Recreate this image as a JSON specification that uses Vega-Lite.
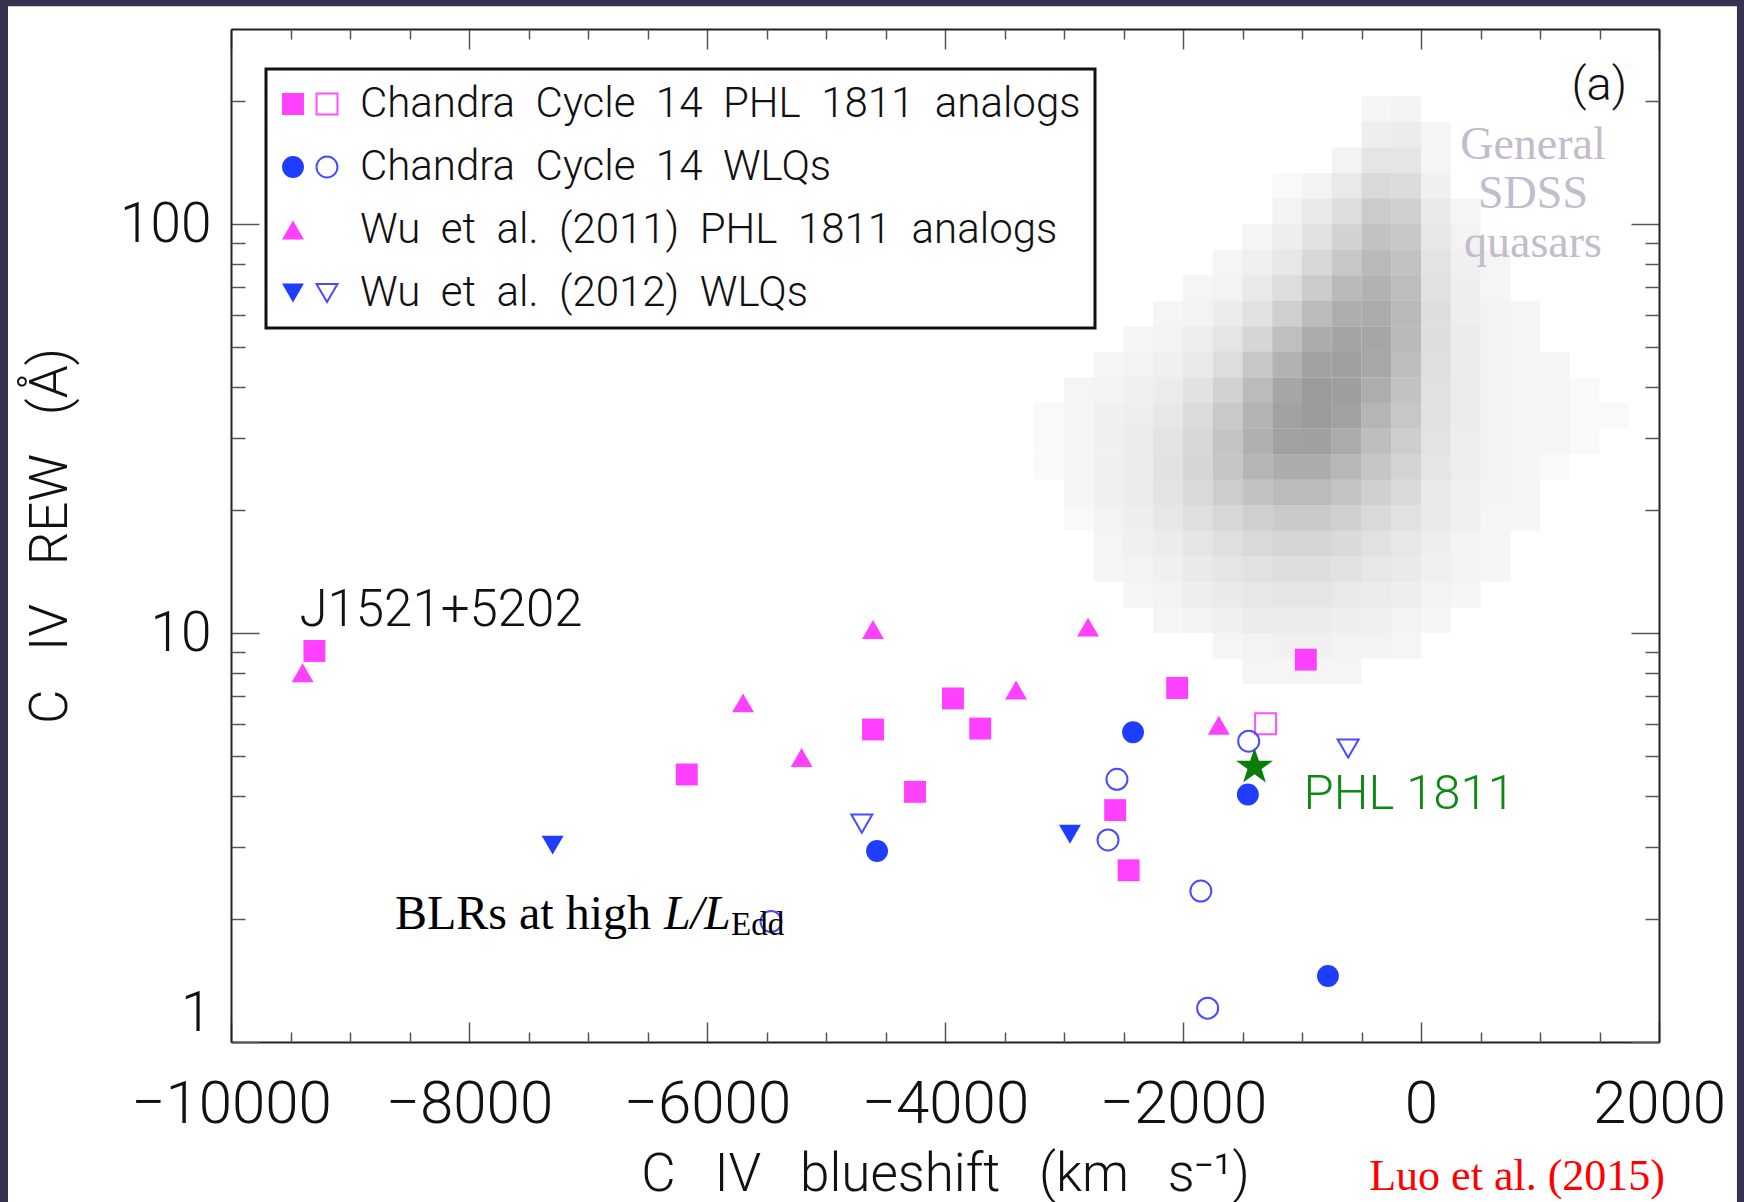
{
  "$schema": "https://vega.github.io/schema/vega-lite/v6.json",
  "width": 1428,
  "height": 1013,
  "autosize": {"type": "none"},
  "padding": {"left": 231, "top": 29, "right": 85, "bottom": 160},
  "background": "#35334f",
  "config": {
    "view": {"stroke": null},
    "legend": {"strokeWidth": 3},
    "axis": {"grid": false, "domainColor": "#222222", "domainWidth": 2, "tickColor": "#555555", "tickWidth": 1.5, "labelFont": "Roboto", "labelFontWeight": 300, "labelColor": "#111111", "titleFont": "Roboto", "titleFontWeight": 300, "titleColor": "#111111", "labelOverlap": false, "labelBound": false, "labelLimit": 500}
  },
  "datasets": {
    "pts": [
      {"g": "Chandra Cycle 14 PHL 1811 analogs", "open": false, "x": -9299, "y": 9.04, "label": "J1521+5202"},
      {"g": "Chandra Cycle 14 PHL 1811 analogs", "open": false, "x": -6170, "y": 4.51},
      {"g": "Chandra Cycle 14 PHL 1811 analogs", "open": false, "x": -4605, "y": 5.81},
      {"g": "Chandra Cycle 14 PHL 1811 analogs", "open": false, "x": -3933, "y": 6.92},
      {"g": "Chandra Cycle 14 PHL 1811 analogs", "open": false, "x": -3704, "y": 5.84},
      {"g": "Chandra Cycle 14 PHL 1811 analogs", "open": false, "x": -4252, "y": 4.09},
      {"g": "Chandra Cycle 14 PHL 1811 analogs", "open": false, "x": -968, "y": 8.61},
      {"g": "Chandra Cycle 14 PHL 1811 analogs", "open": false, "x": -2049, "y": 7.34},
      {"g": "Chandra Cycle 14 PHL 1811 analogs", "open": false, "x": -2570, "y": 3.69},
      {"g": "Chandra Cycle 14 PHL 1811 analogs", "open": false, "x": -2457, "y": 2.63},
      {"g": "Chandra Cycle 14 PHL 1811 analogs", "open": true, "x": -1306, "y": 6.0},
      {"g": "Chandra Cycle 14 WLQs", "open": false, "x": -4571, "y": 2.93},
      {"g": "Chandra Cycle 14 WLQs", "open": false, "x": -2420, "y": 5.72},
      {"g": "Chandra Cycle 14 WLQs", "open": false, "x": -1455, "y": 4.03},
      {"g": "Chandra Cycle 14 WLQs", "open": false, "x": -782, "y": 1.45},
      {"g": "Chandra Cycle 14 WLQs", "open": true, "x": -5462, "y": 1.97},
      {"g": "Chandra Cycle 14 WLQs", "open": true, "x": -1448, "y": 5.44},
      {"g": "Chandra Cycle 14 WLQs", "open": true, "x": -2555, "y": 4.39},
      {"g": "Chandra Cycle 14 WLQs", "open": true, "x": -2630, "y": 3.12},
      {"g": "Chandra Cycle 14 WLQs", "open": true, "x": -1850, "y": 2.34},
      {"g": "Chandra Cycle 14 WLQs", "open": true, "x": -1793, "y": 1.21},
      {"g": "Wu et al. (2011) PHL 1811 analogs", "open": false, "x": -9398, "y": 8.0},
      {"g": "Wu et al. (2011) PHL 1811 analogs", "open": false, "x": -4605, "y": 10.2},
      {"g": "Wu et al. (2011) PHL 1811 analogs", "open": false, "x": -5697, "y": 6.75},
      {"g": "Wu et al. (2011) PHL 1811 analogs", "open": false, "x": -5205, "y": 4.96},
      {"g": "Wu et al. (2011) PHL 1811 analogs", "open": false, "x": -3403, "y": 7.26},
      {"g": "Wu et al. (2011) PHL 1811 analogs", "open": false, "x": -2798, "y": 10.34},
      {"g": "Wu et al. (2011) PHL 1811 analogs", "open": false, "x": -1699, "y": 5.95},
      {"g": "Wu et al. (2012) WLQs", "open": false, "x": -7297, "y": 3.03},
      {"g": "Wu et al. (2012) WLQs", "open": false, "x": -2950, "y": 3.22},
      {"g": "Wu et al. (2012) WLQs", "open": true, "x": -4699, "y": 3.42},
      {"g": "Wu et al. (2012) WLQs", "open": true, "x": -612, "y": 5.22}
    ],
    "phl": [{"name": "PHL 1811", "x": -1399, "y": 4.71}],
    "cloud": [
      {"x":-375,"y":191.1,"d":0.02},{"x":-125,"y":191.1,"d":0.03},
      {"x":-375,"y":165.48,"d":0.05},{"x":-125,"y":165.48,"d":0.06},{"x":125,"y":165.48,"d":0.02},
      {"x":-625,"y":143.3,"d":0.03},{"x":-375,"y":143.3,"d":0.1},{"x":-125,"y":143.3,"d":0.1},{"x":125,"y":143.3,"d":0.02},
      {"x":-1125,"y":124.09,"d":0.01},{"x":-875,"y":124.09,"d":0.03},{"x":-625,"y":124.09,"d":0.08},{"x":-375,"y":124.09,"d":0.19},{"x":-125,"y":124.09,"d":0.17},{"x":125,"y":124.09,"d":0.04},
      {"x":-1125,"y":107.46,"d":0.03},{"x":-875,"y":107.46,"d":0.07},{"x":-625,"y":107.46,"d":0.16},{"x":-375,"y":107.46,"d":0.32},{"x":-125,"y":107.46,"d":0.27},{"x":125,"y":107.46,"d":0.07},{"x":375,"y":107.46,"d":0.02},
      {"x":-1375,"y":93.06,"d":0.02},{"x":-1125,"y":93.06,"d":0.05},{"x":-875,"y":93.06,"d":0.12},{"x":-625,"y":93.06,"d":0.25},{"x":-375,"y":93.06,"d":0.42},{"x":-125,"y":93.06,"d":0.35},{"x":125,"y":93.06,"d":0.09},{"x":375,"y":93.06,"d":0.03},
      {"x":-1625,"y":80.58,"d":0.02},{"x":-1375,"y":80.58,"d":0.04},{"x":-1125,"y":80.58,"d":0.09},{"x":-875,"y":80.58,"d":0.2},{"x":-625,"y":80.58,"d":0.36},{"x":-375,"y":80.58,"d":0.52},{"x":-125,"y":80.58,"d":0.42},{"x":125,"y":80.58,"d":0.11},{"x":375,"y":80.58,"d":0.04},{"x":625,"y":80.58,"d":0.02},
      {"x":-1875,"y":69.78,"d":0.02},{"x":-1625,"y":69.78,"d":0.03},{"x":-1375,"y":69.78,"d":0.07},{"x":-1125,"y":69.78,"d":0.16},{"x":-875,"y":69.78,"d":0.32},{"x":-625,"y":69.78,"d":0.52},{"x":-375,"y":69.78,"d":0.62},{"x":-125,"y":69.78,"d":0.48},{"x":125,"y":69.78,"d":0.13},{"x":375,"y":69.78,"d":0.05},{"x":625,"y":69.78,"d":0.02},
      {"x":-2125,"y":60.43,"d":0.02},{"x":-1875,"y":60.43,"d":0.03},{"x":-1625,"y":60.43,"d":0.06},{"x":-1375,"y":60.43,"d":0.13},{"x":-1125,"y":60.43,"d":0.28},{"x":-875,"y":60.43,"d":0.5},{"x":-625,"y":60.43,"d":0.68},{"x":-375,"y":60.43,"d":0.72},{"x":-125,"y":60.43,"d":0.52},{"x":125,"y":60.43,"d":0.15},{"x":375,"y":60.43,"d":0.05},{"x":625,"y":60.43,"d":0.03},{"x":875,"y":60.43,"d":0.02},
      {"x":-2375,"y":52.33,"d":0.02},{"x":-2125,"y":52.33,"d":0.03},{"x":-1875,"y":52.33,"d":0.05},{"x":-1625,"y":52.33,"d":0.1},{"x":-1375,"y":52.33,"d":0.22},{"x":-1125,"y":52.33,"d":0.45},{"x":-875,"y":52.33,"d":0.7},{"x":-625,"y":52.33,"d":0.82},{"x":-375,"y":52.33,"d":0.78},{"x":-125,"y":52.33,"d":0.52},{"x":125,"y":52.33,"d":0.15},{"x":375,"y":52.33,"d":0.06},{"x":625,"y":52.33,"d":0.03},{"x":875,"y":52.33,"d":0.02},
      {"x":-2625,"y":45.32,"d":0.02},{"x":-2375,"y":45.32,"d":0.03},{"x":-2125,"y":45.32,"d":0.04},{"x":-1875,"y":45.32,"d":0.08},{"x":-1625,"y":45.32,"d":0.16},{"x":-1375,"y":45.32,"d":0.35},{"x":-1125,"y":45.32,"d":0.62},{"x":-875,"y":45.32,"d":0.85},{"x":-625,"y":45.32,"d":0.88},{"x":-375,"y":45.32,"d":0.75},{"x":-125,"y":45.32,"d":0.48},{"x":125,"y":45.32,"d":0.14},{"x":375,"y":45.32,"d":0.06},{"x":625,"y":45.32,"d":0.03},{"x":875,"y":45.32,"d":0.02},{"x":1125,"y":45.32,"d":0.02},
      {"x":-2875,"y":39.24,"d":0.02},{"x":-2625,"y":39.24,"d":0.03},{"x":-2375,"y":39.24,"d":0.04},{"x":-2125,"y":39.24,"d":0.06},{"x":-1875,"y":39.24,"d":0.12},{"x":-1625,"y":39.24,"d":0.25},{"x":-1375,"y":39.24,"d":0.5},{"x":-1125,"y":39.24,"d":0.78},{"x":-875,"y":39.24,"d":0.95},{"x":-625,"y":39.24,"d":0.9},{"x":-375,"y":39.24,"d":0.68},{"x":-125,"y":39.24,"d":0.42},{"x":125,"y":39.24,"d":0.13},{"x":375,"y":39.24,"d":0.06},{"x":625,"y":39.24,"d":0.03},{"x":875,"y":39.24,"d":0.02},{"x":1125,"y":39.24,"d":0.02},{"x":1375,"y":39.24,"d":0.01},
      {"x":-3125,"y":33.98,"d":0.01},{"x":-2875,"y":33.98,"d":0.02},{"x":-2625,"y":33.98,"d":0.04},{"x":-2375,"y":33.98,"d":0.05},{"x":-2125,"y":33.98,"d":0.09},{"x":-1875,"y":33.98,"d":0.17},{"x":-1625,"y":33.98,"d":0.34},{"x":-1375,"y":33.98,"d":0.6},{"x":-1125,"y":33.98,"d":0.85},{"x":-875,"y":33.98,"d":0.95},{"x":-625,"y":33.98,"d":0.85},{"x":-375,"y":33.98,"d":0.58},{"x":-125,"y":33.98,"d":0.36},{"x":125,"y":33.98,"d":0.12},{"x":375,"y":33.98,"d":0.06},{"x":625,"y":33.98,"d":0.03},{"x":875,"y":33.98,"d":0.02},{"x":1125,"y":33.98,"d":0.02},{"x":1375,"y":33.98,"d":0.01},{"x":1625,"y":33.98,"d":0.01},
      {"x":-3125,"y":29.43,"d":0.01},{"x":-2875,"y":29.43,"d":0.02},{"x":-2625,"y":29.43,"d":0.04},{"x":-2375,"y":29.43,"d":0.06},{"x":-2125,"y":29.43,"d":0.11},{"x":-1875,"y":29.43,"d":0.21},{"x":-1625,"y":29.43,"d":0.4},{"x":-1375,"y":29.43,"d":0.65},{"x":-1125,"y":29.43,"d":0.85},{"x":-875,"y":29.43,"d":0.88},{"x":-625,"y":29.43,"d":0.72},{"x":-375,"y":29.43,"d":0.47},{"x":-125,"y":29.43,"d":0.3},{"x":125,"y":29.43,"d":0.11},{"x":375,"y":29.43,"d":0.05},{"x":625,"y":29.43,"d":0.03},{"x":875,"y":29.43,"d":0.02},{"x":1125,"y":29.43,"d":0.02},{"x":1375,"y":29.43,"d":0.01},
      {"x":-3125,"y":25.48,"d":0.01},{"x":-2875,"y":25.48,"d":0.02},{"x":-2625,"y":25.48,"d":0.04},{"x":-2375,"y":25.48,"d":0.06},{"x":-2125,"y":25.48,"d":0.12},{"x":-1875,"y":25.48,"d":0.22},{"x":-1625,"y":25.48,"d":0.38},{"x":-1375,"y":25.48,"d":0.58},{"x":-1125,"y":25.48,"d":0.7},{"x":-875,"y":25.48,"d":0.7},{"x":-625,"y":25.48,"d":0.56},{"x":-375,"y":25.48,"d":0.37},{"x":-125,"y":25.48,"d":0.24},{"x":125,"y":25.48,"d":0.1},{"x":375,"y":25.48,"d":0.05},{"x":625,"y":25.48,"d":0.03},{"x":875,"y":25.48,"d":0.02},{"x":1125,"y":25.48,"d":0.01},
      {"x":-2875,"y":22.07,"d":0.02},{"x":-2625,"y":22.07,"d":0.04},{"x":-2375,"y":22.07,"d":0.06},{"x":-2125,"y":22.07,"d":0.11},{"x":-1875,"y":22.07,"d":0.19},{"x":-1625,"y":22.07,"d":0.3},{"x":-1375,"y":22.07,"d":0.42},{"x":-1125,"y":22.07,"d":0.5},{"x":-875,"y":22.07,"d":0.5},{"x":-625,"y":22.07,"d":0.4},{"x":-375,"y":22.07,"d":0.27},{"x":-125,"y":22.07,"d":0.18},{"x":125,"y":22.07,"d":0.08},{"x":375,"y":22.07,"d":0.04},{"x":625,"y":22.07,"d":0.03},{"x":875,"y":22.07,"d":0.02},
      {"x":-2875,"y":19.11,"d":0.01},{"x":-2625,"y":19.11,"d":0.03},{"x":-2375,"y":19.11,"d":0.05},{"x":-2125,"y":19.11,"d":0.09},{"x":-1875,"y":19.11,"d":0.14},{"x":-1625,"y":19.11,"d":0.21},{"x":-1375,"y":19.11,"d":0.28},{"x":-1125,"y":19.11,"d":0.33},{"x":-875,"y":19.11,"d":0.33},{"x":-625,"y":19.11,"d":0.27},{"x":-375,"y":19.11,"d":0.19},{"x":-125,"y":19.11,"d":0.13},{"x":125,"y":19.11,"d":0.07},{"x":375,"y":19.11,"d":0.04},{"x":625,"y":19.11,"d":0.02},{"x":875,"y":19.11,"d":0.02},
      {"x":-2625,"y":16.55,"d":0.02},{"x":-2375,"y":16.55,"d":0.04},{"x":-2125,"y":16.55,"d":0.06},{"x":-1875,"y":16.55,"d":0.1},{"x":-1625,"y":16.55,"d":0.14},{"x":-1375,"y":16.55,"d":0.19},{"x":-1125,"y":16.55,"d":0.22},{"x":-875,"y":16.55,"d":0.22},{"x":-625,"y":16.55,"d":0.18},{"x":-375,"y":16.55,"d":0.13},{"x":-125,"y":16.55,"d":0.09},{"x":125,"y":16.55,"d":0.05},{"x":375,"y":16.55,"d":0.03},{"x":625,"y":16.55,"d":0.02},
      {"x":-2625,"y":14.33,"d":0.02},{"x":-2375,"y":14.33,"d":0.03},{"x":-2125,"y":14.33,"d":0.04},{"x":-1875,"y":14.33,"d":0.07},{"x":-1625,"y":14.33,"d":0.1},{"x":-1375,"y":14.33,"d":0.13},{"x":-1125,"y":14.33,"d":0.15},{"x":-875,"y":14.33,"d":0.15},{"x":-625,"y":14.33,"d":0.12},{"x":-375,"y":14.33,"d":0.09},{"x":-125,"y":14.33,"d":0.07},{"x":125,"y":14.33,"d":0.04},{"x":375,"y":14.33,"d":0.03},{"x":625,"y":14.33,"d":0.02},
      {"x":-2375,"y":12.41,"d":0.02},{"x":-2125,"y":12.41,"d":0.03},{"x":-1875,"y":12.41,"d":0.05},{"x":-1625,"y":12.41,"d":0.07},{"x":-1375,"y":12.41,"d":0.09},{"x":-1125,"y":12.41,"d":0.1},{"x":-875,"y":12.41,"d":0.1},{"x":-625,"y":12.41,"d":0.08},{"x":-375,"y":12.41,"d":0.06},{"x":-125,"y":12.41,"d":0.05},{"x":125,"y":12.41,"d":0.03},{"x":375,"y":12.41,"d":0.02},
      {"x":-2125,"y":10.75,"d":0.02},{"x":-1875,"y":10.75,"d":0.03},{"x":-1625,"y":10.75,"d":0.04},{"x":-1375,"y":10.75,"d":0.06},{"x":-1125,"y":10.75,"d":0.06},{"x":-875,"y":10.75,"d":0.06},{"x":-625,"y":10.75,"d":0.05},{"x":-375,"y":10.75,"d":0.04},{"x":-125,"y":10.75,"d":0.03},{"x":125,"y":10.75,"d":0.02},
      {"x":-1625,"y":9.31,"d":0.02},{"x":-1375,"y":9.31,"d":0.03},{"x":-1125,"y":9.31,"d":0.04},{"x":-875,"y":9.31,"d":0.04},{"x":-625,"y":9.31,"d":0.03},{"x":-375,"y":9.31,"d":0.03},{"x":-125,"y":9.31,"d":0.02},
      {"x":-1375,"y":8.06,"d":0.02},{"x":-1125,"y":8.06,"d":0.02},{"x":-875,"y":8.06,"d":0.02},{"x":-625,"y":8.06,"d":0.02}
    ]
  },
  "resolve": {
    "axis": {"x": "independent", "y": "independent"},
    "scale": {"shape": "independent", "fill": "independent", "stroke": "independent"}
  },
  "layer": [
    {
      "data": {"values": [{}]},
      "mark": {"type": "rect", "fill": "#ffffff"},
      "encoding": {
        "x": {"datum": -11874, "type": "quantitative", "scale": {"domain": [-10000, 2000], "nice": false, "zero": false}, "axis": null},
        "x2": {"datum": 2655},
        "y": {"datum": 341, "type": "quantitative", "scale": {"type": "log", "domain": [1, 300], "nice": false}, "axis": null},
        "y2": {"datum": 0.3}
      }
    },
    {
      "data": {"name": "cloud"},
      "mark": {"type": "rect", "width": 29.75, "height": 25.58, "fill": "#8a8a8a"},
      "encoding": {
        "x": {"field": "x", "type": "quantitative", "scale": {"domain": [-10000, 2000], "nice": false, "zero": false},
              "axis": {"orient": "top", "zindex": 1, "title": null, "labels": false, "values": [-10000,-8000,-6000,-4000,-2000,0,2000], "tickSize": -20}},
        "y": {"field": "y", "type": "quantitative", "scale": {"type": "log", "domain": [1, 300], "nice": false},
              "axis": {"orient": "right", "zindex": 1, "title": null, "labels": false, "values": [1,10,100], "tickSize": -28}},
        "opacity": {"field": "d", "type": "quantitative", "scale": {"type": "pow", "exponent": 0.6, "domain": [0, 1], "range": [0, 0.88]}, "legend": null}
      }
    },
    {
      "data": {"name": "pts"},
      "transform": [{"filter": "!datum.open"}],
      "mark": {"type": "point", "filled": true, "opacity": 1, "strokeWidth": 0, "size": 480},
      "encoding": {
        "x": {"field": "x", "type": "quantitative", "scale": {"domain": [-10000, 2000], "nice": false, "zero": false},
              "axis": {"orient": "bottom", "zindex": 1, "title": "C\u00a0\u00a0\u00a0IV\u00a0\u00a0\u00a0blueshift\u00a0\u00a0\u00a0(km\u00a0\u00a0\u00a0s\u207b\u00b9)",
                       "values": [-10000,-8000,-6000,-4000,-2000,0,2000], "format": "d",
                       "labelFontSize": 60, "labelPadding": 53, "labelFlush": false, "tickSize": -20,
                       "titleFontSize": 53, "titlePadding": 14}},
        "y": {"field": "y", "type": "quantitative", "scale": {"type": "log", "domain": [1, 300], "nice": false},
              "axis": {"orient": "left", "zindex": 1, "title": "C\u00a0\u00a0\u00a0IV\u00a0\u00a0\u00a0REW\u00a0\u00a0\u00a0(\u00c5)",
                       "values": [1,10,100], "format": "d",
                       "labelFontSize": 55, "labelPadding": 48, "labelFlush": true, "labelFlushOffset": 0, "tickSize": -28,
                       "titleFontSize": 53, "titlePadding": 42}},
        "shape": {"field": "g", "type": "nominal",
                  "scale": {"domain": ["Chandra Cycle 14 PHL 1811 analogs", "Chandra Cycle 14 WLQs", "Wu et al. (2011) PHL 1811 analogs", "Wu et al. (2012) WLQs"], "range": ["square", "circle", "triangle-up", "triangle-down"]},
                  "legend": {"title": null, "orient": "none", "legendX": 35, "legendY": 40, "padding": 14, "strokeColor": "#111111", "fillColor": "#ffffff", "symbolSize": 480, "symbolStrokeWidth": 0, "symbolOffset": -8, "labelFont": "Roboto", "labelFontWeight": 300, "labelFontSize": 42, "labelColor": "#111111", "labelOffset": 46, "labelLimit": 1500, "rowPadding": 21, "direction": "vertical", "labelExpr": "replace(datum.label, regexp(' ', 'g'), '\u00a0\u00a0')"}},
        "fill": {"field": "g", "type": "nominal",
                 "scale": {"domain": ["Chandra Cycle 14 PHL 1811 analogs", "Chandra Cycle 14 WLQs", "Wu et al. (2011) PHL 1811 analogs", "Wu et al. (2012) WLQs"], "range": ["#ff40ff", "#1f3dff", "#ff40ff", "#1f3dff"]},
                 "legend": {"title": null, "orient": "none", "legendX": 35, "legendY": 40, "padding": 14, "strokeColor": "#111111", "fillColor": "#ffffff", "symbolSize": 480, "symbolStrokeWidth": 0, "symbolOffset": -8, "labelFont": "Roboto", "labelFontWeight": 300, "labelFontSize": 42, "labelColor": "#111111", "labelOffset": 46, "labelLimit": 1500, "rowPadding": 21, "direction": "vertical", "labelExpr": "replace(datum.label, regexp(' ', 'g'), '\u00a0\u00a0')"}}
      }
    },
    {
      "data": {"name": "pts"},
      "transform": [{"filter": "datum.open"}],
      "mark": {"type": "point", "filled": false, "opacity": 1, "strokeWidth": 2, "size": 440},
      "encoding": {
        "x": {"field": "x", "type": "quantitative", "scale": {"domain": [-10000, 2000], "nice": false, "zero": false},
              "axis": {"orient": "bottom", "zindex": 1, "title": null, "labels": false, "domain": false, "tickSize": -10,
                       "values": [-9500,-9000,-8500,-7500,-7000,-6500,-5500,-5000,-4500,-3500,-3000,-2500,-1500,-1000,-500,500,1000,1500]}},
        "y": {"field": "y", "type": "quantitative", "scale": {"type": "log", "domain": [1, 300], "nice": false},
              "axis": {"orient": "left", "zindex": 1, "title": null, "labels": false, "domain": false, "tickSize": -14,
                       "values": [2,3,4,5,6,7,8,9,20,30,40,50,60,70,80,90,200]}},
        "shape": {"field": "g", "type": "nominal",
                  "scale": {"domain": ["Chandra Cycle 14 PHL 1811 analogs", "Chandra Cycle 14 WLQs", "Wu et al. (2011) PHL 1811 analogs", "Wu et al. (2012) WLQs"], "range": ["square", "circle", "triangle-up", "triangle-down"]},
                  "legend": {"title": null, "orient": "none", "legendX": 70, "legendY": 40, "padding": 14, "zindex": 2, "symbolSize": 440, "symbolStrokeWidth": 2, "symbolOffset": -9, "symbolFillColor": "transparent", "labelFont": "Roboto", "labelFontWeight": 300, "labelFontSize": 42, "labelOffset": -20, "labelLimit": 1500, "rowPadding": 21, "direction": "vertical", "labelExpr": "'\u00a0'"}},
        "stroke": {"field": "g", "type": "nominal",
                   "scale": {"domain": ["Chandra Cycle 14 PHL 1811 analogs", "Chandra Cycle 14 WLQs", "Wu et al. (2011) PHL 1811 analogs", "Wu et al. (2012) WLQs"], "range": ["#ff50ff", "#4a4aff", "transparent", "#4a4aff"]},
                   "legend": {"title": null, "orient": "none", "legendX": 70, "legendY": 40, "padding": 14, "zindex": 2, "symbolSize": 440, "symbolStrokeWidth": 2, "symbolOffset": -9, "symbolFillColor": "transparent", "labelFont": "Roboto", "labelFontWeight": 300, "labelFontSize": 42, "labelOffset": -20, "labelLimit": 1500, "rowPadding": 21, "direction": "vertical", "labelExpr": "'\u00a0'"}}
      }
    },
    {
      "data": {"name": "phl"},
      "mark": {"type": "point", "shape": "M0,-1L0.2245,-0.309L0.9511,-0.309L0.3633,0.118L0.5878,0.809L0,0.382L-0.5878,0.809L-0.3633,0.118L-0.9511,-0.309L-0.2245,-0.309Z", "filled": true, "opacity": 1, "strokeWidth": 0, "size": 1500, "color": "#0a7d0a"},
      "encoding": {
        "x": {"field": "x", "type": "quantitative", "scale": {"domain": [-10000, 2000], "nice": false, "zero": false},
              "axis": {"orient": "top", "zindex": 1, "title": null, "labels": false, "domain": false, "tickSize": -10,
                       "values": [-9500,-9000,-8500,-7500,-7000,-6500,-5500,-5000,-4500,-3500,-3000,-2500,-1500,-1000,-500,500,1000,1500]}},
        "y": {"field": "y", "type": "quantitative", "scale": {"type": "log", "domain": [1, 300], "nice": false},
              "axis": {"orient": "right", "zindex": 1, "title": null, "labels": false, "domain": false, "tickSize": -14,
                       "values": [2,3,4,5,6,7,8,9,20,30,40,50,60,70,80,90,200]}}
      }
    },
    {
      "data": {"name": "phl"},
      "mark": {"type": "text", "align": "left", "baseline": "alphabetic", "dx": 49, "dy": 42, "font": "Roboto", "fontWeight": 300, "fontSize": 49, "color": "#118811"},
      "encoding": {
        "x": {"field": "x", "type": "quantitative", "scale": {"domain": [-10000, 2000], "nice": false, "zero": false}, "axis": null},
        "y": {"field": "y", "type": "quantitative", "scale": {"type": "log", "domain": [1, 300], "nice": false}, "axis": null},
        "text": {"field": "name"}
      }
    },
    {
      "data": {"name": "pts"},
      "transform": [{"filter": "datum.label"}],
      "mark": {"type": "text", "align": "left", "baseline": "alphabetic", "dx": -15, "dy": -25, "font": "Roboto", "fontWeight": 300, "fontSize": 51, "color": "#111111"},
      "encoding": {
        "x": {"field": "x", "type": "quantitative", "scale": {"domain": [-10000, 2000], "nice": false, "zero": false}, "axis": null},
        "y": {"field": "y", "type": "quantitative", "scale": {"type": "log", "domain": [1, 300], "nice": false}, "axis": null},
        "text": {"field": "label"}
      }
    },
    {
      "data": {"values": [{}]},
      "mark": {"type": "text", "text": "(a)", "align": "right", "baseline": "middle", "font": "Roboto", "fontWeight": 300, "fontSize": 47, "color": "#111111"},
      "encoding": {
        "x": {"datum": 1731, "type": "quantitative", "scale": {"domain": [-10000, 2000], "nice": false, "zero": false}, "axis": null},
        "y": {"datum": 218, "type": "quantitative", "scale": {"type": "log", "domain": [1, 300], "nice": false}, "axis": null}
      }
    },
    {
      "data": {"values": [{}]},
      "mark": {"type": "text", "text": ["General", "SDSS", "quasars"], "align": "center", "baseline": "top", "lineHeight": 49, "font": "Liberation Serif", "fontSize": 46, "color": "#c3bccb"},
      "encoding": {
        "x": {"datum": 941, "type": "quantitative", "scale": {"domain": [-10000, 2000], "nice": false, "zero": false}, "axis": null},
        "y": {"datum": 177, "type": "quantitative", "scale": {"type": "log", "domain": [1, 300], "nice": false}, "axis": null}
      }
    },
    {
      "data": {"values": [{}]},
      "mark": {"type": "text", "text": "BLRs at high", "align": "left", "baseline": "alphabetic", "font": "Liberation Serif", "fontSize": 48, "color": "#000000"},
      "encoding": {
        "x": {"datum": -8622, "type": "quantitative", "scale": {"domain": [-10000, 2000], "nice": false, "zero": false}, "axis": null},
        "y": {"datum": 1.889, "type": "quantitative", "scale": {"type": "log", "domain": [1, 300], "nice": false}, "axis": null}
      }
    },
    {
      "data": {"values": [{}]},
      "mark": {"type": "text", "text": "L/L", "align": "left", "baseline": "alphabetic", "dx": 269, "font": "Liberation Serif", "fontStyle": "italic", "fontSize": 48, "color": "#000000"},
      "encoding": {
        "x": {"datum": -8622, "type": "quantitative", "scale": {"domain": [-10000, 2000], "nice": false, "zero": false}, "axis": null},
        "y": {"datum": 1.889, "type": "quantitative", "scale": {"type": "log", "domain": [1, 300], "nice": false}, "axis": null}
      }
    },
    {
      "data": {"values": [{}]},
      "mark": {"type": "text", "text": "Edd", "align": "left", "baseline": "alphabetic", "dx": 336, "dy": 6, "font": "Liberation Serif", "fontSize": 33, "color": "#000000"},
      "encoding": {
        "x": {"datum": -8622, "type": "quantitative", "scale": {"domain": [-10000, 2000], "nice": false, "zero": false}, "axis": null},
        "y": {"datum": 1.889, "type": "quantitative", "scale": {"type": "log", "domain": [1, 300], "nice": false}, "axis": null}
      }
    },
    {
      "data": {"values": [{}]},
      "mark": {"type": "text", "text": "Luo et al. (2015)", "align": "right", "baseline": "alphabetic", "font": "Liberation Serif", "fontSize": 44, "color": "#ff0000"},
      "encoding": {
        "x": {"datum": 2050, "type": "quantitative", "scale": {"domain": [-10000, 2000], "nice": false, "zero": false}, "axis": null},
        "y": {"datum": 0.4348, "type": "quantitative", "scale": {"type": "log", "domain": [1, 300], "nice": false}, "axis": null}
      }
    }
  ]
}
